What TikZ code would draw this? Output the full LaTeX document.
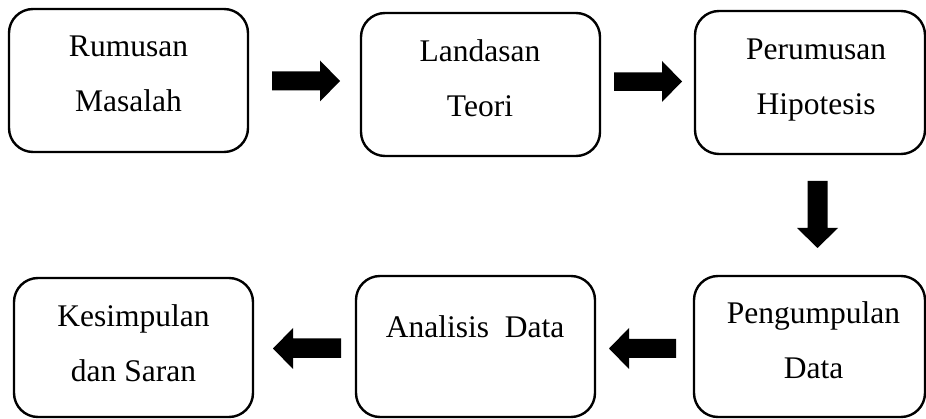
\documentclass[tikz,border=0pt]{standalone}
\usepackage{fontspec}
\setmainfont{Liberation Serif}
\begin{document}
\begin{tikzpicture}[x=1pt,y=-1pt,
  box/.style={draw, line width=2.4pt, rounded corners=24pt, inner sep=0pt},
  lbl/.style={anchor=north, inner sep=0pt, align=center, font=\fontsize{31.5}{54.5}\selectfont},
  blk/.style={fill=black}]
\useasboundingbox (0,0) rectangle (926,419);
% boxes
\node[box, minimum width=239pt, minimum height=143pt] (b1) at (128.5,80.5) {};
\node[box, minimum width=239pt, minimum height=143pt] (b2) at (480.5,84.5) {};
\node[box, minimum width=230pt, minimum height=143pt] (b3) at (810,82.5) {};
\node[box, minimum width=231pt, minimum height=141pt] (b4) at (809.5,346.5) {};
\node[box, minimum width=239pt, minimum height=141pt] (b5) at (475.5,346.5) {};
\node[box, minimum width=239pt, minimum height=139pt] (b6) at (133.5,347.5) {};
% labels
\node[lbl] (t1) at (128.5,36) {Rumusan\\Masalah};
\node[lbl] (t2) at (480,39.5) {Landasan\\Teori};
\node[lbl] (t3) at (816,39) {Perumusan\\Hipotesis};
\node[lbl] (t4) at (813.5,301.5) {Pengumpulan\\Data};
\node[lbl] (t5) at (475,315.5) {Analisis\ \ Data};
\node[lbl] (t6) at (133.5,304.5) {Kesimpulan\\dan Saran};
% block arrows
\fill[blk] (272,71.5) -- (320,71.5) -- (320,60.5) -- (340,81) -- (320,101.5) -- (320,90.5) -- (272,90.5) -- cycle;
\fill[blk] (614,72.5) -- (662,72.5) -- (662,61) -- (682,81.5) -- (662,102) -- (662,91) -- (614,91) -- cycle;
\fill[blk] (807.5,181) -- (827.5,181) -- (827.5,228) -- (838,228) -- (817.5,248) -- (797,228) -- (807.5,228) -- cycle;
\fill[blk] (676,339) -- (629,339) -- (629,328) -- (609,348.5) -- (629,369) -- (629,358) -- (676,358) -- cycle;
\fill[blk] (341,338.5) -- (293,338.5) -- (293,328) -- (273,348.5) -- (293,369) -- (293,358) -- (341,358) -- cycle;
\end{tikzpicture}
\end{document}
